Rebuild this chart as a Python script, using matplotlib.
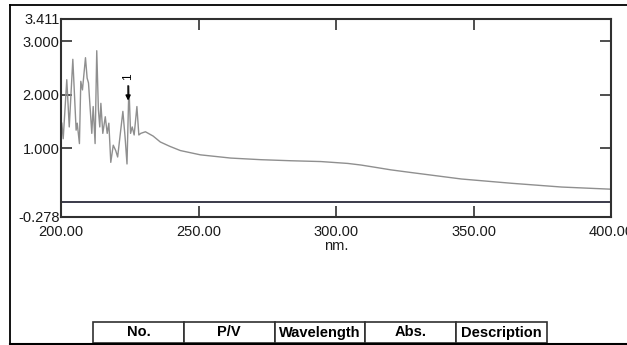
import matplotlib.pyplot as plt
from matplotlib.lines import Line2D

plt.rcParams["font.family"] = ["Liberation Sans", "DejaVu Sans"]

# absorbance spectrum (nm, Abs.)
wavelength = [
    200.3, 200.8, 202.1, 203.0, 204.3, 205.5, 205.9, 206.7, 207.2, 207.8,
    208.9, 209.5, 210.0, 211.2, 211.7, 212.4, 213.0, 213.6, 214.1, 214.5,
    215.2, 216.1, 216.8, 217.4, 218.1, 219.0, 219.9, 220.6, 222.5, 223.3,
    224.0, 224.7, 225.3, 225.9, 226.6, 227.6, 228.3, 229.0, 230.7, 233.5,
    236.1, 239.5, 243.4, 250.7, 261.7, 272.6, 283.6, 294.5, 304.3, 309.1,
    314.0, 320.0, 327.4, 345.6, 363.9, 382.1, 400.0,
]
absorbance = [
    1.47, 1.18, 2.28, 1.40, 2.66, 1.34, 1.47, 1.09, 2.25, 2.09,
    2.69, 2.31, 2.22, 1.28, 1.78, 1.09, 2.82, 1.72, 1.40, 1.84,
    1.28, 1.59, 1.28, 1.47, 0.74, 1.06, 0.96, 0.84, 1.69, 1.21,
    0.71, 2.16, 1.28, 1.40, 1.25, 1.78, 1.25, 1.28, 1.31, 1.23,
    1.12, 1.04, 0.96, 0.88, 0.82, 0.79, 0.77, 0.755, 0.72, 0.69,
    0.65, 0.60, 0.55, 0.43, 0.35, 0.28, 0.24,
]

peak_nm = 224.4
peak_label = "1"

x_ticks = [200, 250, 300, 350, 400]
x_ticklabels = ["200.00", "250.00", "300.00", "350.00", "400.00"]
y_ticks = [-0.278, 1.0, 2.0, 3.0, 3.411]
y_ticklabels = ["-0.278", "1.000", "2.000", "3.000", "3.411"]

table_cols = ["No.", "P/V", "Wavelength", "Abs.", "Description"]

W, H = 627, 345
fig = plt.figure(figsize=(W / 100, H / 100), dpi=100)
fig.patch.set_facecolor("white")

ax = fig.add_axes([61 / W, 1 - 217 / H, (611 - 61) / W, (217 - 19) / H])
ax.plot(wavelength, absorbance, color="#8f8f8f", linewidth=1.0)
ax.axhline(0, color="#3a3a4a", linewidth=1.4)

# peak pick marker
ax.annotate(
    peak_label,
    xy=(peak_nm, 1.89),
    xytext=(peak_nm, 2.27),
    ha="center",
    va="bottom",
    rotation=90,
    fontsize=8.5,
    arrowprops=dict(arrowstyle="-|>", color="black", lw=1.1, shrinkA=2, shrinkB=0,
                    mutation_scale=7),
)

ax.set_xlim(200, 400)
ax.set_ylim(-0.278, 3.411)
ax.set_xticks(x_ticks)
ax.set_xticklabels(x_ticklabels)
ax.set_yticks(y_ticks)
ax.set_yticklabels(y_ticklabels)
ax.tick_params(axis="both", direction="in", length=8, width=1.2, color="#303030",
               labelsize=10.5, labelcolor="#1a1a1a", top=True, right=True)
ax.tick_params(axis="x", pad=6)
ax.tick_params(axis="y", pad=1)
for sp in ax.spines.values():
    sp.set_linewidth(1.5)
    sp.set_color("#303030")
ax.set_xlabel("nm.", fontsize=10.5, labelpad=0, color="#1a1a1a")

# page frame lines
fig.add_artist(Line2D([10 / W, 10 / W], [1 - 5 / H, 1 - 344 / H], color="black", lw=1.3))
fig.add_artist(Line2D([10 / W, 1.0], [1 - 5 / H, 1 - 5 / H], color="black", lw=1.3))
fig.add_artist(Line2D([10 / W, 1.0], [1 - 344 / H, 1 - 344 / H], color="black", lw=1.5))

# peak table header
ax_tab = fig.add_axes([93 / W, 1 - 343 / H, (547 - 93) / W, (343 - 322) / H])
ax_tab.axis("off")
tab = ax_tab.table(cellText=[table_cols], cellLoc="center", bbox=[0, 0, 1, 1])
tab.auto_set_font_size(False)
for (r, c), cell in tab.get_celld().items():
    cell.set_linewidth(1.2)
    cell.set_edgecolor("#303030")
    cell.get_text().set_fontsize(10.5)
    cell.get_text().set_fontweight("bold")

fig.savefig("out.png", dpi=100)
